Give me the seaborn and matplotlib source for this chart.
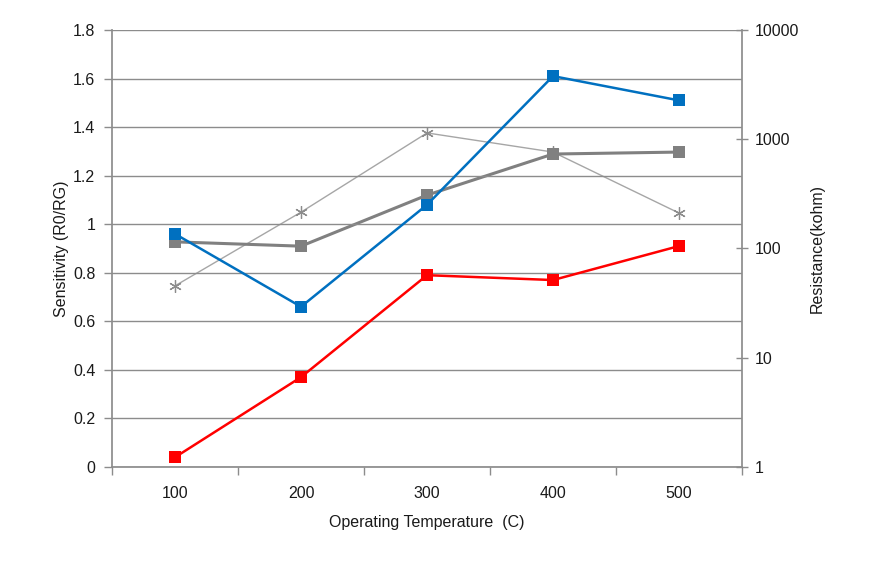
import matplotlib
matplotlib.use("Agg")
import matplotlib.pyplot as plt
import seaborn as sns
import pandas as pd
from matplotlib.ticker import FixedLocator, NullLocator, FuncFormatter

sns.set_theme(style="white")
plt.rcParams['font.family'] = ['Liberation Sans', 'DejaVu Sans']

temps = ["100", "200", "300", "400", "500"]
sens_blue = [0.96, 0.66, 1.08, 1.61, 1.51]
sens_red = [0.04, 0.37, 0.79, 0.77, 0.91]
res_gray = [115, 105, 308, 732, 763]
res_star = [45.5, 215, 1142, 763, 211]

pos = list(range(len(temps)))
df_left = pd.DataFrame({"pos": pos, "blue": sens_blue, "red": sens_red})
df_right = pd.DataFrame({"pos": pos, "gray": res_gray, "star": res_star})

fig = plt.figure(figsize=(8.71, 5.69), dpi=100)
ax1 = fig.add_axes([0.1286, 0.1793, 0.8519 - 0.1286, 0.9473 - 0.1793])
ax2 = ax1.twinx()

gc = "#8c8c8c"
fs = 11.5

# right axis series
sns.lineplot(data=df_right, x="pos", y="star", ax=ax2, color="#a6a6a6", lw=1,
             marker=(6, 2, 0), markersize=9, markeredgecolor="#8c8c8c",
             markeredgewidth=0.9)
sns.lineplot(data=df_right, x="pos", y="gray", ax=ax2, color="#808080", lw=2.2,
             marker="s", markersize=8, markeredgewidth=0)
# left axis series
sns.lineplot(data=df_left, x="pos", y="red", ax=ax1, color="#ff0000", lw=1.8,
             marker="s", markersize=8, markeredgewidth=0)
sns.lineplot(data=df_left, x="pos", y="blue", ax=ax1, color="#0070c0", lw=1.8,
             marker="s", markersize=8, markeredgewidth=0)

ax1.set_zorder(ax2.get_zorder() + 1)
ax1.patch.set_visible(False)

ax1.set_xlim(-0.5, len(temps) - 0.5)
ax1.set_ylim(0, 1.8)
ax1.set_yticks([0, 0.2, 0.4, 0.6, 0.8, 1, 1.2, 1.4, 1.6, 1.8])
ax1.set_yticklabels(["0", "0.2", "0.4", "0.6", "0.8", "1", "1.2", "1.4", "1.6", "1.8"])
ax1.xaxis.set_major_locator(FixedLocator([p - 0.5 for p in pos] + [len(temps) - 0.5]))
ax1.xaxis.set_major_formatter(FuncFormatter(lambda v, i: ""))
ax1.xaxis.set_minor_locator(FixedLocator(pos))
ax1.set_xticklabels(temps, minor=True)
ax1.tick_params(axis="x", which="major", direction="out", length=6, color=gc, width=1, bottom=True)
ax1.tick_params(axis="x", which="minor", length=0, pad=14, labelsize=fs, labelcolor="#1a1a1a")
ax1.tick_params(axis="y", direction="out", length=6, color=gc, width=1, left=True,
                labelsize=fs, labelcolor="#1a1a1a", pad=6)
ax1.grid(axis="y", color=gc, lw=1)
ax1.grid(axis="x", visible=False)

ax2.set_yscale("log")
ax2.set_ylim(1, 10000)
ax2.yaxis.set_major_locator(FixedLocator([1, 10, 100, 1000, 10000]))
ax2.yaxis.set_minor_locator(NullLocator())
ax2.yaxis.set_major_formatter(FuncFormatter(lambda v, i: f"{int(round(v))}"))
ax2.tick_params(axis="y", direction="inout", length=8, color=gc, width=1, right=True,
                labelsize=fs, labelcolor="#1a1a1a", pad=5)
ax2.grid(False)

for a in (ax1, ax2):
    for s in a.spines.values():
        s.set_visible(False)
ax1.spines["left"].set_visible(True)
ax1.spines["bottom"].set_visible(True)
ax1.spines["left"].set_color(gc)
ax1.spines["bottom"].set_color(gc)
ax2.spines["right"].set_visible(True)
ax2.spines["right"].set_color(gc)

ax1.set_xlabel("Operating Temperature  (C)", fontsize=fs, color="#1a1a1a", labelpad=10)
ax1.set_ylabel("Sensitivity (R0/RG)", fontsize=fs, color="#1a1a1a", labelpad=3)
ax2.set_ylabel("Resistance(kohm)", fontsize=fs, color="#1a1a1a", labelpad=8, rotation=90)

fig.savefig("out.png", dpi=100)
